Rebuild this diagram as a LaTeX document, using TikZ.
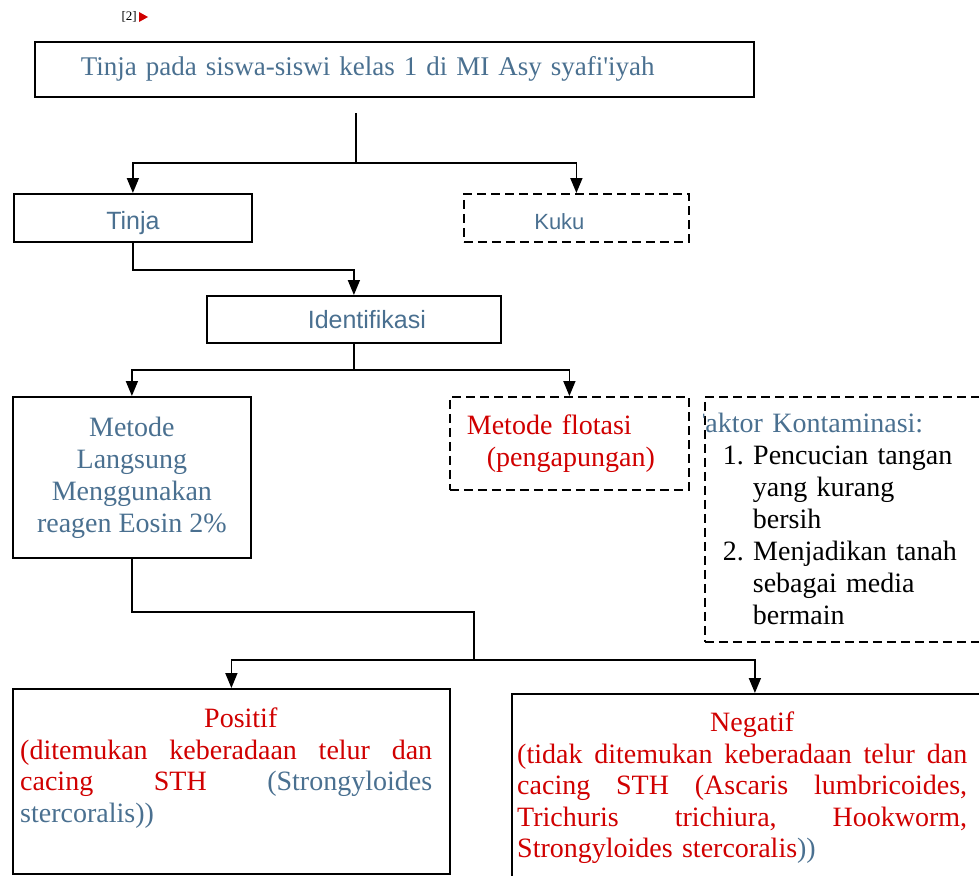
\documentclass[tikz,border=0pt]{standalone}
\usepackage{fontspec}
\setmainfont{Liberation Serif}
\setsansfont{Liberation Sans}
\usetikzlibrary{arrows.meta, positioning, calc}
\definecolor{slateblue}{HTML}{4A7090}
\definecolor{findred}{HTML}{D00000}
\frenchspacing
\newcommand{\bodyfont}{\fontsize{28}{32}\selectfont}
\newcommand{\resultfont}{\fontsize{28}{31.5}\selectfont}
\newcommand{\labelfont}{\sffamily\fontsize{25}{30}\selectfont}
\tikzstyle{solidbox} = [rectangle, draw=black, line width=1.8pt, inner sep=0pt, anchor=north west]
\tikzstyle{dashbox} = [rectangle, draw=black, line width=1.8pt, dash pattern=on 9pt off 5pt, inner sep=0pt, anchor=north west]
\tikzstyle{link} = [line width=1.6pt]
\tikzstyle{arrow} = [line width=1.6pt, -{Triangle[length=15pt,width=12pt]}]
\begin{document}
\begin{tikzpicture}[x=1pt, y=-1pt]
  \useasboundingbox (0,0) rectangle (979,875);

  % Reference mark
  \node (refmark) [anchor=east, font=\fontsize{13}{15}\selectfont, inner sep=0pt] at (137,17) {[2]};
  \fill[findred] (refmark.east) ++(2,-5) -- ++(9,5) -- ++(-9,5) -- cycle;

  % Top box
  \node (title) [solidbox, minimum width=719pt, minimum height=55pt, inner xsep=46pt,
    text width=627pt, align=left, font=\fontsize{27}{32}\selectfont, text=slateblue] at (34,41)
    {Tinja pada siswa-siswi kelas 1 di MI Asy syafi\textquotesingle iyah};

  % Samples
  \node (tinja) [solidbox, minimum width=238pt, minimum height=48pt, text height=24pt, text depth=0pt,
    font=\labelfont, text=slateblue] at (13,193) {Tinja};
  \node (kuku) [dashbox, minimum width=225pt, minimum height=48pt, text height=24pt, text depth=0pt,
    font=\sffamily\fontsize{22}{26}\selectfont, text=slateblue] at (463,193) {\hspace*{-34pt}Kuku};

  % Identification
  \node (ident) [solidbox, minimum width=294pt, minimum height=47pt, font=\labelfont, text=slateblue]
    at (206,295) {\hspace*{26pt}Identifikasi};

  % Methods
  \node (langsung) [solidbox, minimum width=238pt, minimum height=161pt, align=center,
    font=\bodyfont, text=slateblue] at (12,396)
    {Metode\\Langsung\\Menggunakan\\reagen Eosin 2\%};
  \node (flotasi) [dashbox, minimum width=239pt, minimum height=93pt, inner xsep=17pt,
    text width=205pt, align=left, font=\bodyfont, text=findred] at (449,396)
    {Metode flotasi\\\hspace*{20pt}(pengapungan)};

  % Contamination factors
  \begin{scope}
    \clip (703,380) rectangle (1000,660);
    \node (faktor) [dashbox, minimum width=295pt, minimum height=245pt, text width=295pt,
      align=left, font=\bodyfont] at (704,396)
      {\hspace*{-15pt}{\color{slateblue}Faktor Kontaminasi:}\\
       \hspace*{18pt}1. Pencucian tangan\\
       \hspace*{48pt}yang kurang\\
       \hspace*{48pt}bersih\\
       \hspace*{18pt}2. Menjadikan tanah\\
       \hspace*{48pt}sebagai media\\
       \hspace*{48pt}bermain};
  \end{scope}

  % Results
  \node (positif) [solidbox, minimum width=437pt, minimum height=185pt] at (12,688) {};
  \node (positiftext) [anchor=north west, inner sep=0pt, text width=412pt, align=left,
    font=\resultfont, text=findred] at ($(positif.north west)+(8,20)$)
    {\hspace*{184pt}Positif\\
     \makebox[412pt][l]{(ditemukan\hfill keberadaan\hfill telur\hfill dan}\\
     \makebox[412pt][l]{cacing\hfill STH\hfill {\color{slateblue}(Strongyloides}}\\
     {\color{slateblue}stercoralis))}};
  \node (negatif) [solidbox, minimum width=486pt, minimum height=200pt] at (511,693) {};
  \node (negatiftext) [anchor=north west, inner sep=0pt, text width=450pt, align=left,
    font=\resultfont, text=findred] at ($(negatif.north west)+(6,19)$)
    {\hspace*{193pt}Negatif\\
     \makebox[450pt][l]{(tidak\hfill ditemukan\hfill keberadaan\hfill telur\hfill dan}\\
     \makebox[450pt][l]{cacing\hfill STH\hfill (Ascaris\hfill lumbricoides,}\\
     \makebox[450pt][l]{Trichuris\hfill trichiura,\hfill Hookworm,}\\
     Strongyloides stercoralis{\color{slateblue}))}};

  % Connectors
  \coordinate (stem) at (356,113);
  \coordinate (fork1) at (356,163);
  \coordinate (fork3) at (474,660);
  \draw[link] (stem) -- (fork1);
  \draw[arrow] (fork1) -| (tinja);
  \draw[arrow] (fork1) -| (kuku);
  \draw[arrow] (tinja.south) -- ++(0,27) -| (ident.north);
  \draw[link] (ident.south) -- ++(0,26) coordinate (fork2);
  \draw[arrow] (fork2) -| (langsung);
  \draw[arrow] (fork2) -| (flotasi);
  \draw[link] (langsung.south) -- ++(0,53) -| (fork3);
  \draw[arrow] (fork3) -| (positif);
  \draw[arrow] (fork3) -| (negatif);
\end{tikzpicture}
\end{document}
